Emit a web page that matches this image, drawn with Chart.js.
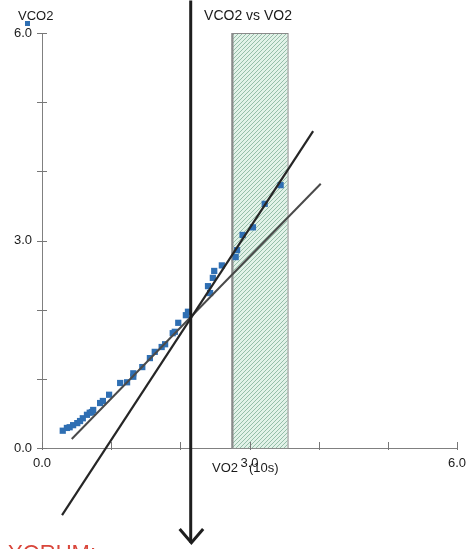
<!DOCTYPE html>
<html>
<head>
<meta charset="utf-8">
<script src="https://cdn.jsdelivr.net/npm/chart.js@4/dist/chart.umd.min.js"></script>
<style>
  html, body { margin: 0; padding: 0; background: #ffffff; }
  #wrap { width: 467px; height: 549px; position: relative; }
</style>
</head>
<body>
<div id="wrap"><canvas id="c" width="467" height="549"></canvas></div>
<script>
// VO2 / VCO2 samples (L/min, 10 s averages)
const vo2  = [0.30, 0.36, 0.40, 0.45, 0.51, 0.55, 0.59, 0.65, 0.69, 0.72, 0.74, 0.84, 0.88, 0.97,
              1.13, 1.23, 1.32, 1.32, 1.45, 1.56, 1.63, 1.73, 1.78, 1.89, 1.92, 1.97, 2.08, 2.11,
              2.43, 2.40, 2.47, 2.49, 2.60, 2.80, 2.82, 2.90, 3.05, 3.22, 3.45];
const vco2 = [0.25, 0.29, 0.30, 0.33, 0.36, 0.39, 0.43, 0.48, 0.51, 0.52, 0.55, 0.65, 0.68, 0.77,
              0.94, 0.95, 1.03, 1.08, 1.17, 1.30, 1.39, 1.46, 1.50, 1.66, 1.68, 1.81, 1.92, 1.97,
              2.24, 2.34, 2.46, 2.56, 2.64, 2.76, 2.86, 3.08, 3.19, 3.53, 3.80];

// Regression lines (V-slope method)
const steepLineX   = [0.29, 3.92];
const steepLineY   = [-0.97, 4.58];
const shallowLineX = [0.43, 4.03];
const shallowLineY = [0.13, 3.82];

// Threshold marker (vertical line with arrow)
const thresholdVO2   = 2.15;
const thresholdSpan  = [6.47, -1.37];
const arrowX         = [1.99, 2.16, 2.33];
const arrowY         = [-1.17, -1.37, -1.17];

// Shaded zone on the VO2 axis
const zoneVO2 = [2.74, 3.55];

// Axis ticks
const axisMin = 0, axisMax = 6, tickStep = 1;
const labeledTicks = [0, 3, 6];

const FONT = "'Liberation Sans', Arial, sans-serif";

function toPoints(xs, ys) { return xs.map((x, i) => ({ x: x, y: ys[i] })); }

function hatchPattern(ctx) {
  const p = document.createElement('canvas');
  p.width = 4; p.height = 4;
  const g = p.getContext('2d');
  g.fillStyle = '#e2f2e8';
  g.fillRect(0, 0, 4, 4);
  g.strokeStyle = '#8cb8a2';
  g.lineWidth = 0.9;
  g.beginPath();
  g.moveTo(-1, 5); g.lineTo(5, -1);
  g.moveTo(-1, 1); g.lineTo(1, -1);
  g.moveTo(3, 5); g.lineTo(5, 3);
  g.stroke();
  return ctx.createPattern(p, 'repeat');
}

const zonePlugin = {
  id: 'zone',
  beforeDatasetsDraw(chart) {
    const { ctx, scales: { x, y } } = chart;
    const x0 = x.getPixelForValue(zoneVO2[0]);
    const x1 = x.getPixelForValue(zoneVO2[1]);
    const yTop = y.getPixelForValue(axisMax);
    const yBot = y.getPixelForValue(axisMin);
    ctx.save();
    ctx.fillStyle = hatchPattern(ctx);
    ctx.fillRect(x0, yTop, x1 - x0, yBot - yTop);
    ctx.strokeStyle = '#8a8a8a';
    ctx.lineWidth = 1;
    ctx.strokeRect(x0 + 0.5, yTop + 0.5, x1 - x0, yBot - yTop);
    ctx.lineWidth = 2;
    ctx.beginPath();
    ctx.moveTo(x0 + 1, yTop); ctx.lineTo(x0 + 1, yBot);
    ctx.stroke();
    ctx.restore();
  }
};

const decorPlugin = {
  id: 'decor',
  afterDraw(chart) {
    const { ctx, scales: { x, y } } = chart;
    ctx.save();
    // crossing tick marks
    ctx.strokeStyle = '#777';
    ctx.lineWidth = 1;
    const xAxisY = y.getPixelForValue(axisMin);
    const yAxisX = x.getPixelForValue(axisMin);
    ctx.beginPath();
    for (let v = axisMin; v <= axisMax + 1e-9; v += tickStep) {
      const px = Math.round(x.getPixelForValue(v)) + 0.5;
      ctx.moveTo(px, xAxisY - 6); ctx.lineTo(px, xAxisY + 2);
      const py = Math.round(y.getPixelForValue(v)) + 0.5;
      ctx.moveTo(yAxisX - 5, py); ctx.lineTo(yAxisX + 5, py);
    }
    ctx.stroke();

    ctx.fillStyle = '#1a1a1a';
    ctx.textBaseline = 'middle';
    ctx.font = '14px ' + FONT;
    ctx.textAlign = 'center';
    ctx.fillText('VCO2 vs VO2', 248, 16);

    ctx.font = '13px ' + FONT;
    ctx.textAlign = 'left';
    ctx.fillText('VCO2', 18, 16);
    ctx.fillText('VO2', 212, 468);
    ctx.fillText('(10s)', 249, 468);

    // series key swatch
    ctx.fillStyle = '#2f6fb3';
    ctx.fillRect(25, 21, 5, 5);

    ctx.fillStyle = '#d9463b';
    ctx.font = '22px ' + FONT;
    ctx.textBaseline = 'top';
    ctx.fillText('YORUM:', 8, 543);
    ctx.restore();
  }
};

new Chart(document.getElementById('c'), {
  type: 'scatter',
  data: {
    datasets: [
      {
        label: 'Threshold',
        data: toPoints([thresholdVO2, thresholdVO2], thresholdSpan),
        showLine: true, borderColor: '#1e1e1e', borderWidth: 3,
        pointRadius: 0, clip: false
      },
      {
        label: 'Arrow',
        data: toPoints(arrowX, arrowY),
        showLine: true, borderColor: '#1e1e1e', borderWidth: 3,
        pointRadius: 0, clip: false
      },
      {
        label: 'Steep fit',
        data: toPoints(steepLineX, steepLineY),
        showLine: true, borderColor: '#262626', borderWidth: 2.2,
        pointRadius: 0, clip: false
      },
      {
        label: 'Shallow fit',
        data: toPoints(shallowLineX, shallowLineY),
        showLine: true, borderColor: '#4a4a4a', borderWidth: 2,
        pointRadius: 0, clip: false
      },
      {
        label: 'VCO2',
        data: toPoints(vo2, vco2),
        pointStyle: 'rect', pointRadius: 4.4,
        backgroundColor: '#2f6fb3', borderColor: '#2f6fb3', borderWidth: 0
      }
    ]
  },
  options: {
    responsive: false,
    animation: false,
    devicePixelRatio: 1,
    layout: { padding: { top: 33, right: 10, left: 0, bottom: 0 } },
    plugins: { legend: { display: false }, tooltip: { enabled: false }, title: { display: false } },
    scales: {
      x: {
        type: 'linear', min: axisMin, max: axisMax,
        afterFit(s) { s.height = 101; s.paddingLeft = 0; s.paddingRight = 0; },
        border: { display: true, color: '#808080', width: 1 },
        grid: { drawOnChartArea: false, drawTicks: false },
        ticks: {
          stepSize: tickStep, autoSkip: false, maxRotation: 0, padding: 8,
          color: '#1a1a1a', font: { family: FONT, size: 13 },
          callback: v => labeledTicks.includes(v) ? v.toFixed(1) : ''
        }
      },
      y: {
        type: 'linear', min: axisMin, max: axisMax,
        afterFit(s) { s.width = 42; s.paddingTop = 0; s.paddingBottom = 0; },
        border: { display: true, color: '#808080', width: 1 },
        grid: { drawOnChartArea: false, drawTicks: false },
        ticks: {
          stepSize: tickStep, autoSkip: false, padding: 10,
          color: '#1a1a1a', font: { family: FONT, size: 13 },
          callback: v => labeledTicks.includes(v) ? v.toFixed(1) : ''
        }
      }
    }
  },
  plugins: [zonePlugin, decorPlugin]
});
</script>
</body>
</html>
